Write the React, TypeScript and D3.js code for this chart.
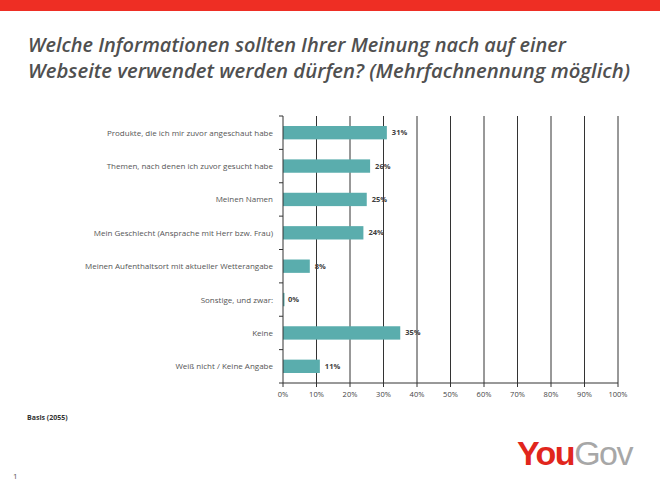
import React from "react";
import * as d3 from "d3";

const categories = [
  "Produkte, die ich mir zuvor angeschaut habe",
  "Themen, nach denen ich zuvor gesucht habe",
  "Meinen Namen",
  "Mein Geschlecht (Ansprache mit Herr bzw. Frau)",
  "Meinen Aufenthaltsort mit aktueller Wetterangabe",
  "Sonstige, und zwar:",
  "Keine",
  "Weiß nicht / Keine Angabe",
];
const values = [31, 26, 25, 24, 8, 0, 35, 11];
const xTicks = [0, 10, 20, 30, 40, 50, 60, 70, 80, 90, 100];
const titleLines = [
  "Welche Informationen sollten Ihrer Meinung nach auf einer",
  "Webseite verwendet werden dürfen? (Mehrfachnennung möglich)",
];

export default function App() {
  const W = 660, H = 495;
  const x = d3.scaleLinear().domain([0, 100]).range([283, 618]);
  const y = d3.scaleBand().domain(categories).range([116, 383]).paddingInner(0.6).paddingOuter(0.3);
  const yOuter = d3.scaleBand().domain(categories).range([116, 383]);
  const font = "'Open Sans', 'DejaVu Sans', sans-serif";
  return (
    <svg width={W} height={H} style={{ position: "absolute", left: 0, top: 0, background: "#fff" }} fontFamily={font}>
      <rect x={0} y={0} width={W} height={11} fill="#ee2e24" />
      {titleLines.map((t, i) => (
        <text key={i} x={28} y={52 + i * 26} fontSize={20} fontStyle="italic" fontWeight={600} fill="#505050" textLength={i === 0 ? 538 : 602} lengthAdjust="spacingAndGlyphs">{t}</text>
      ))}
      {/* gridlines */}
      {xTicks.slice(1).map((t) => (
        <line key={t} x1={x(t)} x2={x(t)} y1={116} y2={383} stroke="#333" strokeWidth={1} />
      ))}
      {/* bars */}
      {categories.map((c, i) => (
        <g key={c}>
          <rect x={x(0)} y={y(c)!} width={Math.max(x(values[i]) - x(0), 1.5)} height={y.bandwidth()} fill="#5aadad" />
          <text x={x(values[i]) + 5} y={y(c)! + y.bandwidth() / 2 + 2.5} fontSize={7.5} fontWeight={700} fill="#404040">{values[i]}%</text>
          <text x={273} y={yOuter(c)! + yOuter.bandwidth() / 2 + 3} fontSize={8} fill="#555" textAnchor="end">{c}</text>
        </g>
      ))}
      {/* y axis */}
      <line x1={x(0)} x2={x(0)} y1={116} y2={383} stroke="#333" />
      {categories.map((c) => (
        <line key={c} x1={279} x2={x(0)} y1={yOuter(c)!} y2={yOuter(c)!} stroke="#333" />
      ))}
      <line x1={279} x2={x(0)} y1={383} y2={383} stroke="#333" />
      {/* x axis */}
      <line x1={x(0)} x2={x(100)} y1={383} y2={383} stroke="#333" />
      {xTicks.map((t) => (
        <g key={t}>
          <line x1={x(t)} x2={x(t)} y1={383} y2={387} stroke="#333" />
          <text x={x(t)} y={397} fontSize={7.5} fill="#444" textAnchor="middle">{t}%</text>
        </g>
      ))}
      <text x={27} y={420} fontSize={7} fontWeight={700} fill="#333">Basis (2055)</text>
      <text x={13} y={479} fontSize={8} fill="#555">1</text>
      <text x={632} y={465} fontSize={34} fontWeight={700} textAnchor="end" letterSpacing={-1.5} fontFamily="'Liberation Sans', Arial, sans-serif">
        <tspan fill="#e1261c">You</tspan><tspan fill="#a7a7a7" fontWeight={400}>Gov</tspan>
      </text>
    </svg>
  );
}
